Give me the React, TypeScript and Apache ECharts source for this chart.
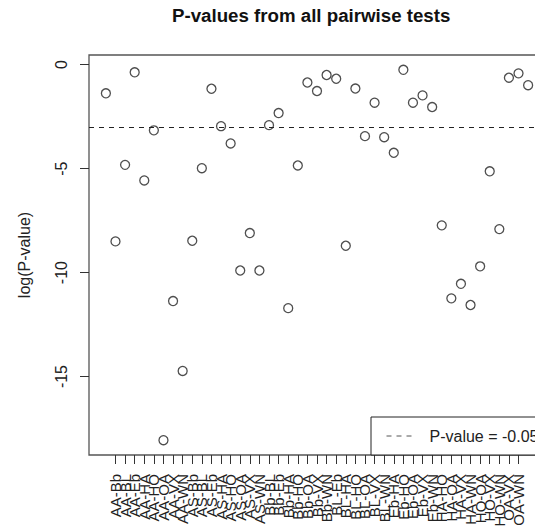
import React, { useEffect, useRef } from "react";
import * as echarts from "echarts";

const pairLabels = [
  "AA-AS", "AA-Bb", "AA-BL", "AA-Eb", "AA-HA", "AA-HO", "AA-OA", "AA-VX", "AA-WN",
  "AS-Bb", "AS-BL", "AS-Eb", "AS-HA", "AS-HO", "AS-OA", "AS-VX", "AS-WN",
  "Bb-BL", "Bb-Eb", "Bb-HA", "Bb-HO", "Bb-OA", "Bb-VX", "Bb-WN",
  "BL-Eb", "BL-HA", "BL-HO", "BL-OA", "BL-VX", "BL-WN",
  "Eb-HA", "Eb-HO", "Eb-OA", "Eb-VX", "Eb-WN",
  "HA-HO", "HA-OA", "HA-VX", "HA-WN",
  "HO-OA", "HO-VX", "HO-WN",
  "OA-VX", "OA-WN",
  "VX-WN",
];

const logPValues = [
  -1.38, -8.5, -4.82, -0.37, -5.57, -3.16, -18.06, -11.37, -14.73, -8.47,
  -4.98, -1.16, -2.96, -3.79, -9.9, -8.1, -9.9, -2.91, -2.33, -11.71,
  -4.85, -0.86, -1.27, -0.5, -0.68, -8.71, -1.15, -3.44, -1.83, -3.49,
  -4.24, -0.25, -1.83, -1.48, -2.04, -7.73, -11.24, -10.54, -11.56, -9.7,
  -5.13, -7.91, -0.63, -0.42, -0.99,
];

const yTickValues = [0, -5, -10, -15];
const pCutoff = 0.05;
const legendLabel = "P-value = -0.05";

const FONT = "'Liberation Sans', Arial, Helvetica, sans-serif";

export default function App() {
  const ref = useRef<HTMLDivElement>(null);

  useEffect(() => {
    if (!ref.current) return;
    const chart = echarts.init(ref.current, null, { renderer: "svg" });

    const n = logPValues.length;
    const xIdx = logPValues.map((_, i) => i + 1);
    const xPad = 0.04 * (n - 1);
    const yMaxData = Math.max(...logPValues);
    const yMinData = Math.min(...logPValues);
    const yPad = 0.04 * (yMaxData - yMinData);
    const cutoff = Math.log(pCutoff);

    chart.setOption({
      animation: false,
      backgroundColor: "#ffffff",
      textStyle: { fontFamily: FONT },
      title: {
        text: "P-values from all pairwise tests",
        left: 172,
        top: 6,
        padding: 0,
        textStyle: { fontFamily: FONT, fontSize: 18.7, fontWeight: "bold", color: "#111" },
      },
      legend: {
        left: 371,
        top: 417,
        orient: "horizontal",
        padding: [11, 8, 11, 15],
        itemWidth: 29,
        itemHeight: 16,
        borderColor: "#222",
        borderWidth: 1,
        borderRadius: 0,
        backgroundColor: "#ffffff",
        selectedMode: false,
        data: [legendLabel],
        itemStyle: { opacity: 0, borderWidth: 0 },
        lineStyle: { type: [5, 5], width: 1, color: "#555", opacity: 1 },
        textStyle: {
          fontFamily: FONT,
          fontSize: 16,
          lineHeight: 16,
          color: "#222",
          padding: [0, 0, 0, 9],
        },
      },
      grid: {
        left: 89,
        top: 55,
        width: 456,
        height: 400,
        show: true,
        borderColor: "#555",
        borderWidth: 1.3,
        backgroundColor: "transparent",
        containLabel: false,
        outerBoundsMode: "none",
      },
      xAxis: {
        type: "value",
        position: "bottom",
        min: 1 - xPad,
        max: n + xPad,
        axisLine: { show: false, onZero: false },
        splitLine: { show: false },
        axisTick: {
          show: true,
          inside: false,
          customValues: xIdx,
          length: 9,
          lineStyle: { color: "#333", width: 1 },
        },
        axisLabel: {
          show: true,
          customValues: xIdx,
          rotate: 90,
          margin: 19,
          fontSize: 15,
          fontFamily: FONT,
          color: "#222",
          formatter: (v: number) => pairLabels[Math.round(v) - 1] ?? "",
        },
      },
      yAxis: {
        type: "value",
        position: "left",
        min: yMinData - yPad,
        max: yMaxData + yPad,
        name: "log(P-value)",
        nameLocation: "middle",
        nameGap: 57,
        nameTextStyle: { fontFamily: FONT, fontSize: 16, color: "#222" },
        axisLine: { show: false, onZero: false },
        splitLine: { show: false },
        axisTick: {
          show: true,
          inside: false,
          customValues: yTickValues,
          length: 9,
          lineStyle: { color: "#333", width: 1 },
        },
        axisLabel: {
          show: true,
          customValues: yTickValues,
          rotate: 90,
          margin: 20,
          fontSize: 16,
          fontFamily: FONT,
          color: "#222",
        },
      },
      series: [
        {
          type: "scatter",
          name: "logP",
          data: logPValues.map((v, i) => [xIdx[i], v]),
          symbol: "circle",
          symbolSize: 9,
          itemStyle: { color: "rgba(0,0,0,0)", borderColor: "#222", borderWidth: 1.3 },
          emphasis: { disabled: true },
          silent: true,
        },
        {
          type: "line",
          name: legendLabel,
          data: [],
          symbol: "none",
          showSymbol: false,
          lineStyle: { type: [5, 5], color: "#222", width: 1 },
          itemStyle: { color: "#222" },
          markLine: {
            silent: true,
            symbol: ["none", "none"],
            label: { show: false },
            lineStyle: { type: [5, 5], color: "#222", width: 1 },
            emphasis: { disabled: true },
            data: [{ yAxis: cutoff }],
          },
        },
      ],
    });

    return () => {
      chart.dispose();
    };
  }, []);

  return (
    <div
      ref={ref}
      style={{ position: "fixed", left: 0, top: 0, width: 535, height: 529, background: "#fff" }}
    />
  );
}
